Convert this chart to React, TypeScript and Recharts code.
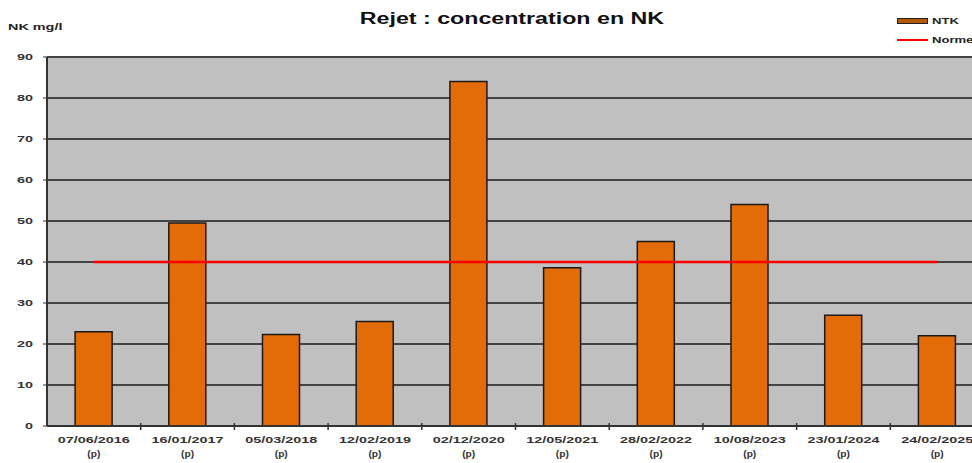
import React from "react";
import { ComposedChart, Bar, Line, XAxis, YAxis, CartesianGrid } from "recharts";

const dates = ["07/06/2016", "16/01/2017", "05/03/2018", "12/02/2019", "02/12/2020", "12/05/2021", "28/02/2022", "10/08/2023", "23/01/2024", "24/02/2025"];
const ntk = [23, 49.5, 22.3, 25.5, 84, 38.6, 45, 54, 27, 22];
const norme = [40, 40, 40, 40, 40, 40, 40, 40, 40, 40];
const yTicks = [0, 10, 20, 30, 40, 50, 60, 70, 80, 90];

const data = dates.map((d, i) => ({ date: d, ntk: ntk[i], norme: norme[i] }));

const FONT = "'Liberation Sans', Arial, sans-serif";
const HALF_BAND = 937 / 10 / 2;

const XTick = (props: any) => {
  const { x, y, payload } = props;
  return (
    <g transform={`translate(${x},${y})`}>
      <line x1={HALF_BAND} x2={HALF_BAND} y1={-3} y2={4} stroke="#333" strokeWidth={1.5} />
      <text x={0} y={17} textAnchor="middle" fontSize={9} fontWeight="bold" fill="#333" fontFamily={FONT} textLength={72} lengthAdjust="spacingAndGlyphs">{payload.value}</text>
      <text x={0} y={31} textAnchor="middle" fontSize={9} fontWeight="bold" fill="#333" fontFamily={FONT} textLength={13} lengthAdjust="spacingAndGlyphs">(p)</text>
    </g>
  );
};

const YTick = (props: any) => {
  const { x, y, payload } = props;
  const s = String(payload.value);
  return (
    <text x={x - 8} y={y + 3} textAnchor="end" fontSize={9} fontWeight="bold" fill="#333" fontFamily={FONT} textLength={s.length * 8} lengthAdjust="spacingAndGlyphs">{s}</text>
  );
};

export default function App() {
  return (
    <div style={{ position: "absolute", left: 0, top: 0, width: 972, height: 463, overflow: "hidden", background: "#fff" }}>
      <div style={{ position: "absolute", left: 0, top: 9, width: 1024, textAlign: "center", fontFamily: FONT, fontWeight: "bold", fontSize: 16, color: "#111", lineHeight: "20px" }}>
        <span style={{ display: "inline-block", transform: "scaleX(1.45)" }}>Rejet : concentration en NK</span>
      </div>
      <div style={{ position: "absolute", left: 8, top: 22, fontFamily: FONT, fontWeight: "bold", fontSize: 9, color: "#222", lineHeight: "10px" }}>
        <span style={{ display: "inline-block", transform: "scaleX(1.6)", transformOrigin: "left center" }}>NK mg/l</span>
      </div>
      <div style={{ position: "absolute", left: 897, top: 15, width: 100, fontFamily: FONT, fontSize: 9, fontWeight: "bold", color: "#222" }}>
        <div style={{ display: "flex", alignItems: "center", height: 12 }}>
          <span style={{ display: "inline-block", width: 29, height: 4, background: "#B35A08", border: "1px solid #222", marginRight: 4 }} />
          <span style={{ display: "inline-block", transform: "scaleX(1.45)", transformOrigin: "left center" }}>NTK</span>
        </div>
        <div style={{ display: "flex", alignItems: "center", height: 12, marginTop: 7 }}>
          <span style={{ display: "inline-block", width: 31, height: 2, background: "#FF0000", marginRight: 4 }} />
          <span style={{ display: "inline-block", transform: "scaleX(1.45)", transformOrigin: "left center" }}>Norme</span>
        </div>
      </div>
      <div style={{ position: "absolute", left: 0, top: 0 }}>
        <ComposedChart width={1000} height={463} data={data} margin={{ top: 57, right: 16, bottom: 0, left: 0 }} barCategoryGap="30%">
          <CartesianGrid vertical={false} stroke="#444" strokeWidth={2} fill="#C0C0C0" fillOpacity={1} />
          <XAxis dataKey="date" height={37} tick={<XTick />} interval={0} tickLine={false} tickSize={0} tickMargin={0} axisLine={{ stroke: "#333", strokeWidth: 2 }} />
          <YAxis width={47} domain={[0, 90]} ticks={yTicks} interval={0} tick={<YTick />} tickLine={{ stroke: "#333" }} tickSize={4} axisLine={{ stroke: "#333", strokeWidth: 2 }} />
          <Bar dataKey="ntk" name="NTK" fill="#E36C09" stroke="#1a1a1a" strokeWidth={1.5} isAnimationActive={false} />
          <Line dataKey="norme" name="Norme" stroke="#FF0000" strokeWidth={2.5} dot={false} activeDot={false} isAnimationActive={false} />
        </ComposedChart>
      </div>
    </div>
  );
}
